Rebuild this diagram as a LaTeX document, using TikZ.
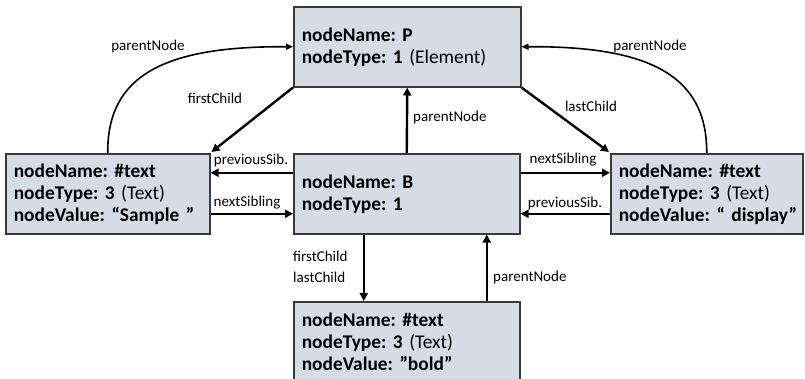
\documentclass[tikz,border=0pt]{standalone}
\usepackage{fontspec}
\setmainfont{Carlito}
\usetikzlibrary{arrows.meta}
\definecolor{boxfill}{HTML}{D6DCE5}
\definecolor{boxline}{HTML}{3A3A3A}
\frenchspacing
\begin{document}
\begin{tikzpicture}[x=1pt,y=-1pt,
  box/.style={draw=boxline, fill=boxfill, line width=1.5pt, anchor=north west,
    inner xsep=8pt, inner ysep=0pt, align=left, minimum height=80pt,
    font=\fontsize{19.4}{22}\selectfont\frenchspacing},
  arr/.style={line width=2.4pt, -{Triangle[length=8pt,width=8pt]}},
  carr/.style={line width=1.6pt, -{Triangle[length=7pt,width=6pt]}},
  lbl/.style={font=\fontsize{15}{18}\selectfont, inner sep=0pt}]
\useasboundingbox (0,0) rectangle (805,378);
\node[box, text width=211pt] (P) at (293,6)
  {\textbf{nodeName: P}\\\textbf{nodeType: 1} (Element)};
\node[box, text width=188pt] (L) at (5,153)
  {\textbf{nodeName: \#text}\\\mbox{\textbf{nodeType: 3} (Text)}\\\mbox{\textbf{nodeValue: “Sample ”}}};
\node[box, text width=210pt] (B) at (293,153)
  {\textbf{nodeName: B}\\\textbf{nodeType: 1}};
\node[box, text width=176pt] (R) at (610,153)
  {\textbf{nodeName: \#text}\\\mbox{\textbf{nodeType: 3} (Text)}\\\mbox{\textbf{nodeValue: “ display”}}};
\node[box, text width=210pt] (C) at (293,301)
  {\textbf{nodeName: \#text}\\\textbf{nodeType: 3} (Text)\\\textbf{nodeValue: ”bold”}};
% siblings
\draw[arr] ([yshift=21pt]B.west) -- ([yshift=21pt]L.east);
\draw[arr] ([yshift=-20pt]L.east) -- ([yshift=-20pt]B.west);
\draw[arr] ([yshift=21pt]B.east) -- ([yshift=21pt]R.west);
\draw[arr] ([yshift=-20pt]R.west) -- ([yshift=-20pt]B.east);
% children of P
\draw[arr] (P.south west) -- ([xshift=1pt,yshift=1pt]L.north east);
\draw[arr] (P.south east) -- ([xshift=-1pt,yshift=1pt]R.north west);
\draw[arr] (B.north) -- (P.south);
% B and its child
\draw[arr] ([xshift=-43pt]B.south) -- ([xshift=-43pt]C.north);
\draw[arr] ([xshift=80pt]C.north) -- ([xshift=80pt]B.south);
% curved parent links
\draw[carr] (L.north) .. controls (107,75) and (165,46) .. (P.west);
\draw[carr] (R.north) .. controls (707,75) and (649,46) .. (P.east);
% labels
\node[lbl] (l1) at (148,46) {parentNode};
\node[lbl] (l2) at (215,98) {firstChild};
\node[lbl, anchor=west] (l3) at (413,117) {parentNode};
\node[lbl] (l4) at (591,106) {lastChild};
\node[lbl] (l5) at (650,46) {parentNode};
\node[lbl] (l6) at (251,160) {previousSib.};
\node[lbl] (l7) at (247,203) {nextSibling};
\node[lbl] (l8) at (563,160) {nextSibling};
\node[lbl] (l9) at (565,203) {previousSib.};
\node[lbl, anchor=west] (l10) at (293,256) {firstChild};
\node[lbl, anchor=west] (l11) at (293,277) {lastChild};
\node[lbl, anchor=west] (l12) at (493,277) {parentNode};
\end{tikzpicture}
\end{document}
